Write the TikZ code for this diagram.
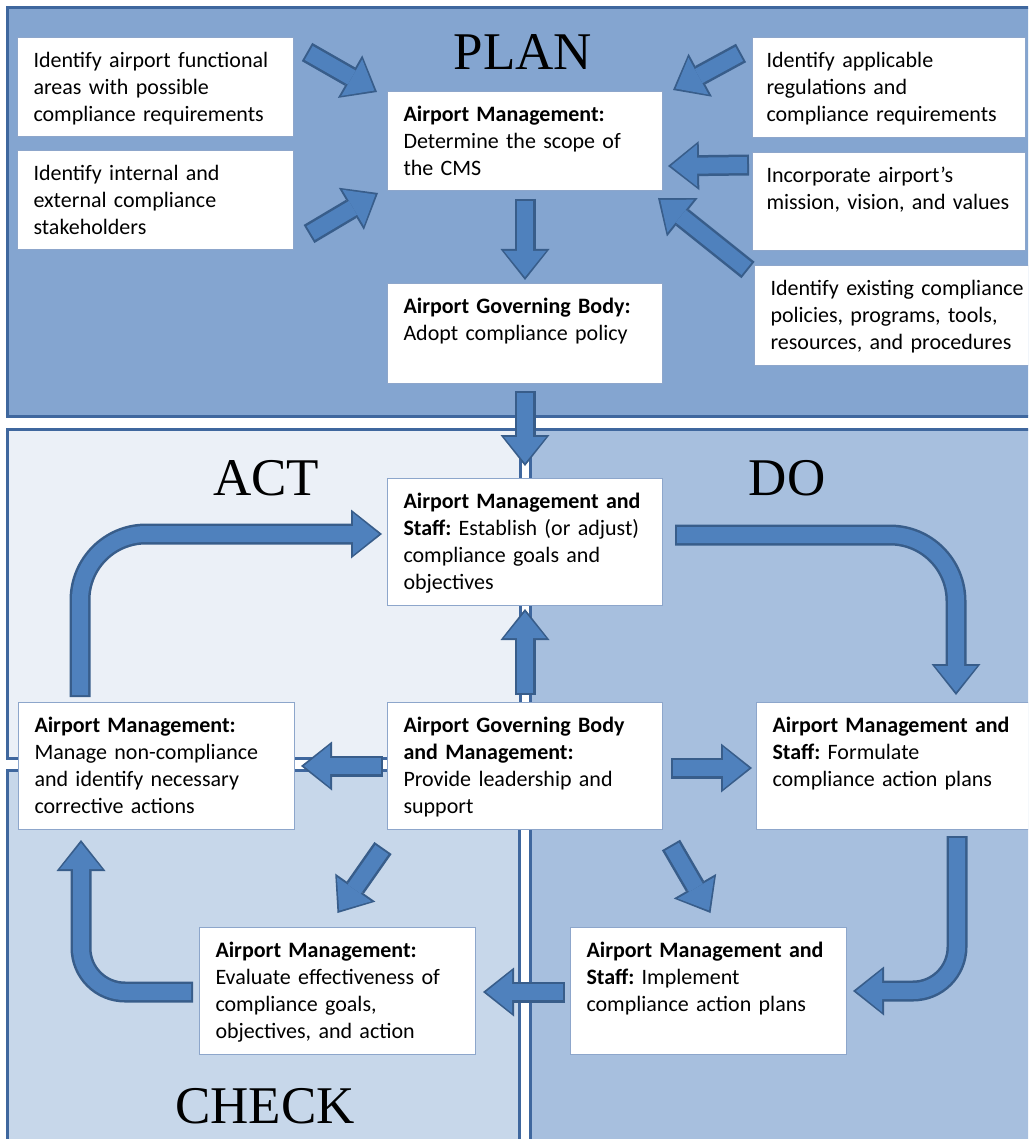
\documentclass[tikz,border=0pt]{standalone}
\usepackage{fontspec}
\setmainfont{Carlito}
\newfontfamily\titlefont{Liberation Serif}
\usepackage{xcolor}
\usetikzlibrary{arrows.meta}
\usetikzlibrary{calc}
\definecolor{planfill}{HTML}{84A5D0}
\definecolor{actfill}{HTML}{EBF0F7}
\definecolor{checkfill}{HTML}{C7D7EA}
\definecolor{dofill}{HTML}{A7BFDE}
\definecolor{panelline}{HTML}{3F679E}
\definecolor{arrowfill}{HTML}{4F81BD}
\definecolor{arrowline}{HTML}{385D8A}
\definecolor{boxline}{HTML}{8DA6CB}
\frenchspacing
\hyphenpenalty=10000

\begin{document}
\begin{tikzpicture}[x=1pt,y=-1pt,
	panel/.style={draw=panelline,line width=3pt},
	box_node/.style={draw=boxline,line width=1pt,fill=white,anchor=north west,align=left,inner xsep=16pt,inner ysep=0pt,text height=30pt,text depth=69pt,text width=244pt,font=\fontsize{22}{27}\selectfont},
	tall/.style={text depth=97pt},
	title_node/.style={anchor=base,font=\titlefont\fontsize{53}{60}\selectfont},
	big_arrow/.style={line width=16pt,draw=arrowfill,shorten <=2pt,shorten >=3pt,-{Triangle[width=42pt,length=26pt,line width=0pt]},
		preaction={draw=arrowline,line width=21pt,shorten <=0pt,shorten >=0pt,-{Triangle[width=49pt,length=31pt,line width=0pt]}}}]
				\useasboundingbox (0,0) rectangle (1028,1139);
				\clip (0,0) rectangle (1028,1139);
				\fill[white] (0,0) rectangle (1028,1139);
				% panels
				\draw[panel,fill=planfill] (7,8) rectangle (1045,416);
				\draw[panel,fill=actfill] (7,429) rectangle (520,758);
				\draw[panel,fill=checkfill] (7,770) rectangle (519,1150);
				\draw[panel,fill=dofill] (530,429) rectangle (1045,1150);
				\node[title_node](P) at (523,70){PLAN};
				\node[title_node](A) at (266,495){ACT};
				\node[title_node](D) at (787,495){DO};
				\node[title_node](C) at (265,1123){CHECK};
				% plan boxes
				\node[box_node](1) at (17,37){Identify airport functional\\areas with possible\\compliance requirements};
				\node[box_node](2) at (17,150){Identify internal and\\external compliance\\stakeholders};
				\node[box_node, text width=243pt](3) at (387,91){\textbf{Airport Management:}\\Determine the scope of\\the CMS};
				\node[box_node, text width=243pt, text depth=70pt](4) at (387,283){\textbf{Airport Governing Body:}\\Adopt compliance policy};
				\node[box_node, inner xsep=14pt, text width=245pt, text depth=70pt](5) at (752,37){Identify applicable\\regulations and\\compliance requirements};
				\node[box_node, inner xsep=14pt, text width=245pt, text depth=68pt](6) at (752,152){Incorporate airport’s\\mission, vision, and values};
				\node[box_node, text width=270pt, text depth=70pt](7) at (754,265){Identify existing compliance\\policies, programs, tools,\\resources, and procedures};
				% cycle boxes
				\node[box_node, tall, text width=243pt](8) at (387,478){\textbf{Airport Management and}\\\textbf{Staff:} Establish (or adjust)\\compliance goals and\\objectives};
				\node[box_node, tall](9) at (18,702){\textbf{Airport Management:}\\Manage non-compliance\\and identify necessary\\corrective actions};
				\node[box_node, tall, text width=243pt](10) at (387,702){\textbf{Airport Governing Body}\\\textbf{and Management:}\\Provide leadership and\\support};
				\node[box_node, tall, text width=270pt](11) at (756,702){\textbf{Airport Management and}\\\textbf{Staff:} Formulate\\compliance action plans};
				\node[box_node, tall](12) at (199,927){\textbf{Airport Management:}\\Evaluate effectiveness of\\compliance goals,\\objectives, and action};
				\node[box_node, tall](13) at (570,927){\textbf{Airport Management and}\\\textbf{Staff:} Implement\\compliance action plans};
				% plan arrows
				\draw[big_arrow] ([shift={(13,15)}]1.north east) -- ([shift={(-10,1)}]3.north west);
				\draw[big_arrow] ([shift={(15,-16)}]2.south east) -- ([shift={(-9,2)}]3.south west);
				\draw[big_arrow] ([shift={(-11,16)}]5.north west) -- ([shift={(10,-1)}]3.north east);
				\draw[big_arrow] ([shift={(-3,13)}]6.north west) -- ([shift={(5,-25)}]3.south east);
				\draw[big_arrow] ([shift={(-6,5)}]7.north west) -- ([shift={(-5,7)}]3.south east);
				\draw[big_arrow] ([shift={(0,8)}]3.south) -- ([shift={(0,-3)}]4.north);
				\draw[big_arrow] ([shift={(0,7)}]4.south) -- ([shift={(0,-12)}]8.north);
				% cycle arrows
				\draw[big_arrow] ([shift={(0,-7)}]10.north) -- ([shift={(0,3)}]8.south);
				\draw[big_arrow] ([shift={(-4,0)}]10.west) -- ([shift={(6,0)}]9.east);
				\draw[big_arrow] ([shift={(8,2)}]10.east) -- ([shift={(-4,2)}]11.west);
				\draw[big_arrow] ([shift={(-4,18)}]10.south west) -- ([shift={(0,-14)}]12.north);
				\draw[big_arrow] ([shift={(8,15)}]10.south east) -- ([shift={(2,-14)}]13.north);
				\draw[big_arrow] ([shift={(-5,1)}]13.west) -- ([shift={(7,1)}]12.east);
				\draw[big_arrow,rounded corners=66pt] ([shift={(12,57)}]8.north east) -| ([shift={(200,-7)}]11.north west);
				\draw[big_arrow,rounded corners=44pt] ([shift={(201,6)}]11.south west) |- ([shift={(6,0)}]13.east);
				\draw[big_arrow,rounded corners=44pt] ([shift={(-6,1)}]12.west) -| ([shift={(63,10)}]9.south west);
				\draw[big_arrow,rounded corners=66pt] ([shift={(62,-5)}]9.north west) |- ([shift={(-5,56)}]8.north west);
			\end{tikzpicture}
\end{document}
